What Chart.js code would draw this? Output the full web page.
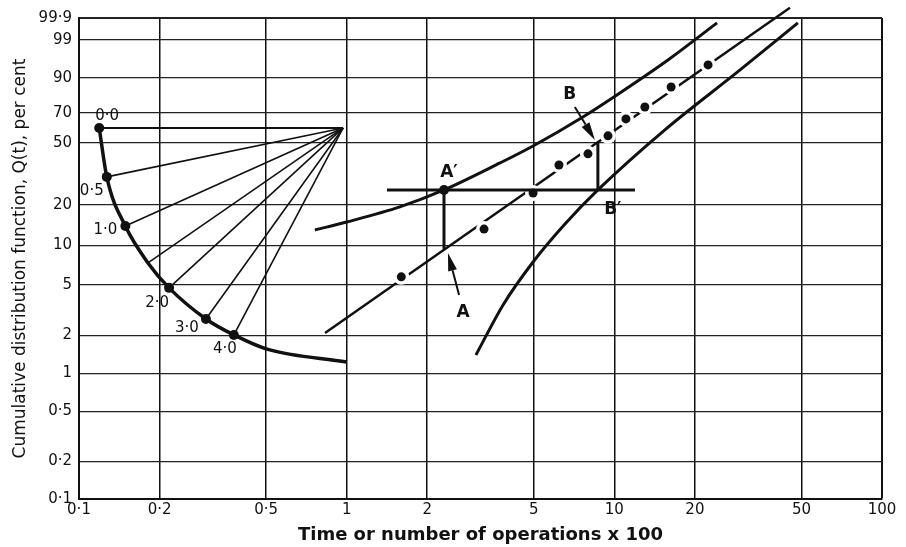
<!DOCTYPE html>
<html>
<head>
<meta charset="utf-8">
<title>Weibull plot</title>
<script src="https://cdn.jsdelivr.net/npm/chart.js@4.4.1/dist/chart.umd.min.js"></script>
<style>
  html, body { margin: 0; padding: 0; background: #fff }
  #wrap { width: 906px; height: 547px }
</style>
</head>
<body>
<div id="wrap"><canvas id="chart" width="906" height="547"></canvas></div>
<script>
// axis ticks (x = time x100, y = Q(t) per cent on Weibull paper)
const xTicks = [0.1, 0.2, 0.5, 1, 2, 5, 10, 20, 50, 100]
const yTicks = [0.1, 0.2, 0.5, 1, 2, 5, 10, 20, 50, 70, 90, 99, 99.9]

// beta estimation scale: arc, labelled points, fan to the pivot
const betaLabels = ['0·0', '0·5', '1·0', '2·0', '3·0', '4·0']
const betaX = [0.119, 0.127, 0.149, 0.217, 0.298, 0.379]
const betaQ = [60.0, 31.1, 14.0, 4.73, 2.70, 2.02]
const arcX = [0.119, 0.127, 0.149, 0.181, 0.217, 0.298, 0.379, 0.504, 1.0]
const arcQ = [60.0, 31.1, 14.0, 7.38, 4.73, 2.70, 2.02, 1.56, 1.235]
const fanX = [0.119, 0.127, 0.149, 0.181, 0.217, 0.298, 0.379]
const fanQ = [60.0, 31.1, 14.0, 7.38, 4.73, 2.70, 2.02]
const pivotX = 0.97, pivotQ = 60.0

// failure data + fitted line
const failX = [1.60, 3.26, 4.97, 6.21, 7.97, 9.47, 11.05, 13.0, 16.3, 22.4]
const failQ = [5.76, 13.3, 24.2, 37.1, 43.4, 54.7, 66.1, 74.0, 85.7, 94.6]
const fitX = [0.83, 45.3]
const fitQ = [2.09, 99.976]

// confidence limits
const upperX = [0.761, 1.0, 1.58, 2.31, 3.74, 4.97, 7.63, 10.49, 15.86, 24.2]
const upperQ = [13.1, 15.0, 19.3, 25.4, 38.2, 48.2, 67.4, 82.5, 95.9, 99.82]
const lowerX = [3.04, 3.84, 4.97, 6.54, 8.68, 15.45, 29.5, 48.5]
const lowerQ = [1.40, 3.48, 7.5, 14.5, 25.4, 58.7, 93.0, 99.82]

// construction lines A-A' and B-B'
const levelX = [1.414, 11.94], levelQ = 25.4
const aX = 2.31, aQ = [9.44, 25.4]
const bX = 8.68, bQ = [25.4, 50.8]
const arrowAX = [2.63, 2.39], arrowAQ = [4.16, 8.80]
const arrowBX = [7.12, 8.46], arrowBQ = [74.0, 52.0]

const INK = '#111'
const FONT = '"DejaVu Sans", sans-serif'
const wb = q => Math.log(-Math.log(1 - q / 100))
const pts = (xs, qs) => xs.map((x, i) => ({ x, y: wb(qs[i]) }))
const fmt = v => String(v).replace('.', '·')

const line = (data, width, extra) => Object.assign({
  data, showLine: true, borderColor: INK, borderWidth: width,
  pointRadius: 0, fill: false, order: 1
}, extra || {})

const datasets = []
// fitted line first (underneath), then white halos so the dots cut it
datasets.push(line(pts(fitX, fitQ), 2.5, { order: 5, clip: false }))
datasets.push({ data: pts(failX, failQ), showLine: false, pointRadius: 8, pointBackgroundColor: '#fff', pointBorderWidth: 0, order: 4 })
datasets.push({ data: pts(failX, failQ), showLine: false, pointRadius: 4.5, pointBackgroundColor: INK, pointBorderWidth: 0, order: 0 })

fanX.forEach((fx, i) => {
  datasets.push(line([{ x: pivotX, y: wb(pivotQ) }, { x: fx, y: wb(fanQ[i]) }], i === 0 ? 2 : 1.6))
})
datasets.push(line(pts(arcX, arcQ), 3.5, { cubicInterpolationMode: 'monotone' }))
datasets.push({ data: pts(betaX, betaQ), showLine: false, pointRadius: 5, pointBackgroundColor: INK, pointBorderWidth: 0, order: 0 })

datasets.push(line(pts(upperX, upperQ), 3, { cubicInterpolationMode: 'monotone' }))
datasets.push(line(pts(lowerX, lowerQ), 3, { cubicInterpolationMode: 'monotone' }))
datasets.push(line(pts(levelX, [levelQ, levelQ]), 3))
datasets.push(line(pts([aX, aX], aQ), 3))
datasets.push(line(pts([bX, bX], bQ), 3))
datasets.push({ data: [{ x: aX, y: wb(aQ[1]) }], showLine: false, pointRadius: 5, pointBackgroundColor: INK, pointBorderWidth: 0, order: 0 })

function arrow(ctx, [x0, y0], [x1, y1]) {
  const a = Math.atan2(y1 - y0, x1 - x0), L = 18, W = 4.5
  const bx = x1 - L * Math.cos(a), by = y1 - L * Math.sin(a)
  ctx.beginPath(); ctx.moveTo(x0, y0); ctx.lineTo(bx, by); ctx.lineWidth = 2; ctx.stroke()
  ctx.beginPath(); ctx.moveTo(x1, y1)
  ctx.lineTo(bx + W * Math.sin(a), by - W * Math.cos(a))
  ctx.lineTo(bx - W * Math.sin(a), by + W * Math.cos(a))
  ctx.closePath(); ctx.fill()
}

const notes = {
  id: 'notes',
  afterDatasetsDraw(chart) {
    const { ctx, scales: { x, y } } = chart
    const px = (vx, q) => [x.getPixelForValue(vx), y.getPixelForValue(wb(q))]
    ctx.save()
    ctx.fillStyle = INK; ctx.strokeStyle = INK
    ctx.textAlign = 'center'; ctx.textBaseline = 'middle'
    ctx.font = '15px ' + FONT
    const offs = [[8, -12], [-15, 14], [-20, 4], [-12, 15], [-19, 9], [-9, 14]]
    betaLabels.forEach((t, i) => {
      const [a, b] = px(betaX[i], betaQ[i])
      ctx.fillText(t, a + offs[i][0], b + offs[i][1])
    })
    const ta = px(arrowAX[0], arrowAQ[0]), tb = px(arrowBX[0], arrowBQ[0])
    arrow(ctx, ta, px(arrowAX[1], arrowAQ[1]))
    arrow(ctx, tb, px(arrowBX[1], arrowBQ[1]))
    ctx.font = 'bold 17px ' + FONT
    const pa = px(aX, aQ[1]), pb = px(bX, bQ[0])
    ctx.fillText('A′', pa[0] + 5, pa[1] - 17)
    ctx.fillText('A', ta[0] + 4, ta[1] + 18)
    ctx.fillText('B', tb[0] - 5, tb[1] - 12)
    ctx.fillText('B′', pb[0] + 15, pb[1] + 20)
    ctx.restore()
  }
}

new Chart(document.getElementById('chart'), {
  type: 'scatter',
  data: { datasets },
  plugins: [notes],
  options: {
    responsive: false,
    animation: false,
    devicePixelRatio: 1,
    layout: { padding: { top: 18, right: 24, left: 0, bottom: 0 } },
    plugins: { legend: { display: false }, tooltip: { enabled: false } },
    scales: {
      x: {
        type: 'logarithmic', min: 0.1, max: 100, bounds: 'data',
        afterBuildTicks: ax => { ax.ticks = xTicks.map(v => ({ value: v })) },
        afterFit: ax => { ax.height = 48 },
        ticks: { autoSkip: false, maxRotation: 0, padding: 2, color: INK, font: { family: FONT, size: 15 }, callback: v => fmt(v) },
        grid: { color: INK, lineWidth: c => c.index === xTicks.length - 1 ? 2 : 1.5, drawTicks: false },
        border: { color: INK, width: 2 },
        title: { display: true, text: 'Time or number of operations x 100', color: INK, font: { family: FONT, size: 18, weight: 'bold' }, padding: { top: 0, bottom: 1 } }
      },
      y: {
        type: 'linear', min: wb(0.1), max: wb(99.9), bounds: 'data',
        afterBuildTicks: ax => { ax.ticks = yTicks.map(q => ({ value: wb(q) })) },
        afterFit: ax => { ax.width = 79 },
        ticks: { autoSkip: false, padding: 7, color: INK, font: { family: FONT, size: 15 }, callback: (v, i) => fmt(yTicks[i]) },
        grid: { color: '#222', lineWidth: c => c.index === yTicks.length - 1 ? 2 : 1.3, drawTicks: false },
        border: { color: INK, width: 2 },
        title: { display: true, text: 'Cumulative distribution function, Q(t), per cent', color: INK, font: { family: FONT, size: 17 }, padding: { top: 10, bottom: 0 } }
      }
    }
  }
})
</script>
</body>
</html>
